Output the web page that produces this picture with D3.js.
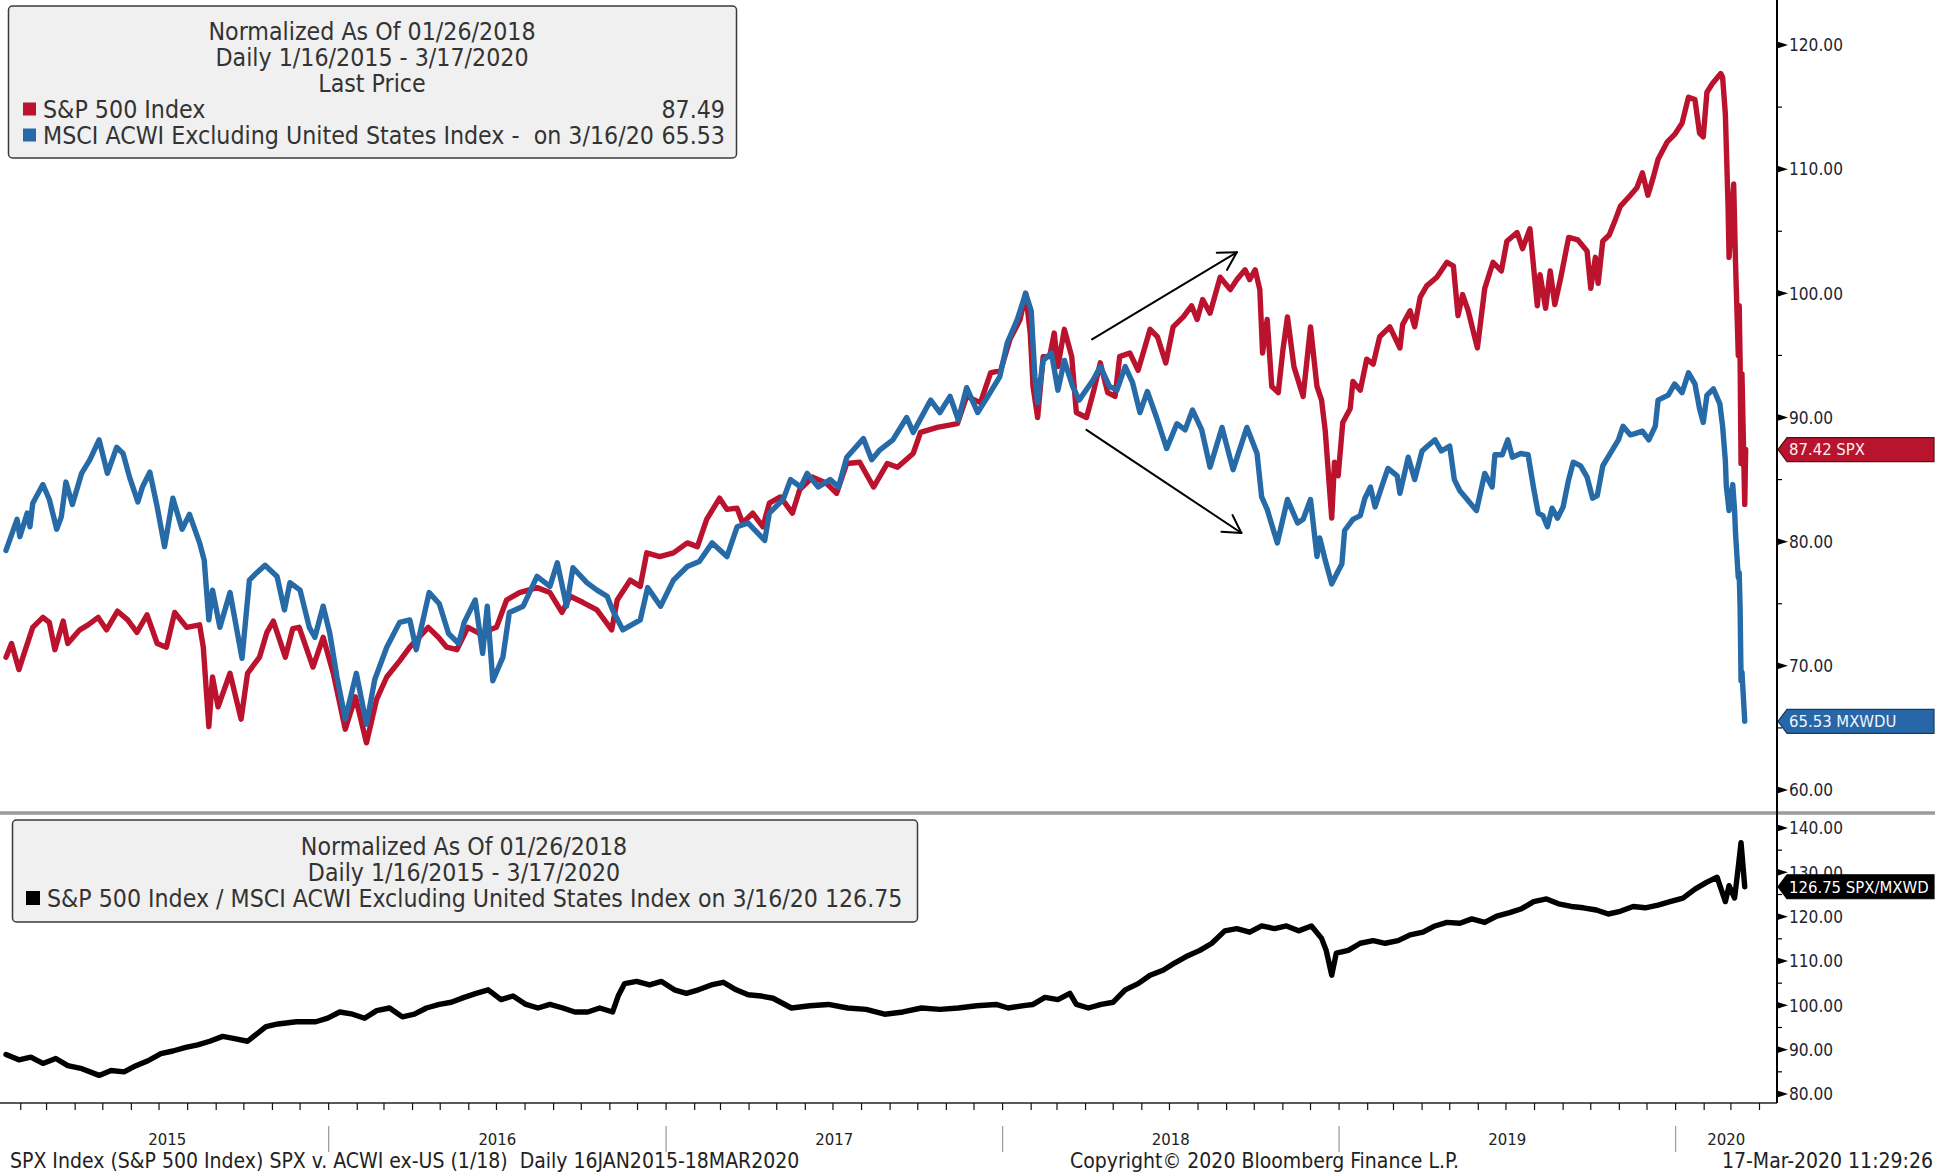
<!DOCTYPE html>
<html><head><meta charset="utf-8">
<script src="https://cdn.jsdelivr.net/npm/d3@7"></script>
<style>
html,body{margin:0;padding:0;background:#fff;}
svg{display:block;}
text{font-family:"DejaVu Sans Condensed","DejaVu Sans",sans-serif;font-stretch:condensed;white-space:pre;}
</style></head><body>
<svg id="chart" width="1940" height="1175"></svg>
<script>
// ---------------- DATA ----------------
const xDomain = ["2015-01-16", "2020-04-20"];

const spxDates = ["2015-01-16","2015-01-22","2015-01-30","2015-02-06","2015-02-14","2015-02-25","2015-03-04","2015-03-10","2015-03-19","2015-03-24","2015-04-06","2015-04-15","2015-04-26","2015-05-05","2015-05-17","2015-05-28","2015-06-07","2015-06-18","2015-06-29","2015-07-09","2015-07-18","2015-07-31","2015-08-14","2015-08-18","2015-08-24","2015-08-28","2015-09-03","2015-09-16","2015-09-28","2015-10-05","2015-10-18","2015-10-26","2015-11-02","2015-11-15","2015-11-23","2015-11-30","2015-12-15","2015-12-26","2016-01-06","2016-01-19","2016-01-30","2016-02-11","2016-02-22","2016-03-04","2016-03-18","2016-03-29","2016-04-18","2016-04-29","2016-05-08","2016-05-19","2016-05-31","2016-06-13","2016-07-01","2016-07-12","2016-07-26","2016-08-14","2016-08-28","2016-09-10","2016-09-19","2016-10-03","2016-10-18","2016-11-03","2016-11-09","2016-11-23","2016-12-04","2016-12-11","2016-12-25","2017-01-09","2017-01-24","2017-02-04","2017-02-14","2017-02-28","2017-03-08","2017-03-19","2017-03-25","2017-04-05","2017-04-16","2017-04-23","2017-05-05","2017-05-18","2017-05-26","2017-06-09","2017-06-24","2017-07-05","2017-07-16","2017-07-30","2017-08-14","2017-08-29","2017-09-09","2017-09-26","2017-10-04","2017-10-22","2017-11-13","2017-11-23","2017-12-08","2017-12-19","2017-12-30","2018-01-09","2018-01-20","2018-01-26","2018-01-31","2018-02-03","2018-02-08","2018-02-14","2018-02-21","2018-02-26","2018-03-02","2018-03-09","2018-03-17","2018-03-22","2018-04-02","2018-04-10","2018-04-17","2018-04-25","2018-05-03","2018-05-08","2018-05-19","2018-05-28","2018-06-10","2018-06-18","2018-06-27","2018-07-05","2018-07-16","2018-07-25","2018-07-31","2018-08-06","2018-08-14","2018-08-25","2018-09-05","2018-09-12","2018-09-21","2018-09-26","2018-10-02","2018-10-07","2018-10-10","2018-10-15","2018-10-20","2018-10-27","2018-11-01","2018-11-06","2018-11-13","2018-11-23","2018-12-01","2018-12-08","2018-12-13","2018-12-17","2018-12-24","2018-12-27","2018-12-31","2019-01-05","2019-01-13","2019-01-16","2019-01-24","2019-01-31","2019-02-07","2019-02-14","2019-02-25","2019-03-08","2019-03-11","2019-03-19","2019-03-24","2019-03-30","2019-04-06","2019-04-17","2019-04-28","2019-05-05","2019-05-10","2019-05-15","2019-05-21","2019-05-31","2019-06-08","2019-06-17","2019-06-26","2019-07-02","2019-07-13","2019-07-19","2019-07-27","2019-08-04","2019-08-07","2019-08-13","2019-08-18","2019-08-23","2019-08-29","2019-09-07","2019-09-17","2019-09-27","2019-10-01","2019-10-06","2019-10-09","2019-10-14","2019-10-21","2019-10-27","2019-11-02","2019-11-13","2019-11-20","2019-11-26","2019-12-02","2019-12-08","2019-12-13","2019-12-23","2019-12-31","2020-01-08","2020-01-15","2020-01-22","2020-01-27","2020-01-31","2020-02-04","2020-02-10","2020-02-19","2020-02-21","2020-02-24","2020-02-27","2020-02-28","2020-03-02","2020-03-04","2020-03-06","2020-03-09","2020-03-10","2020-03-11","2020-03-12","2020-03-13","2020-03-16","2020-03-17"];
const spxValues = [70.7,71.8,69.7,71.3,73.1,73.9,73.5,71.3,73.6,71.8,72.9,73.3,73.9,72.9,74.4,73.7,72.7,74.1,71.8,71.5,74.3,73.1,73.3,71.5,65.1,69.1,66.7,69.4,65.7,69.4,70.7,72.7,73.6,70.7,73.0,73.1,69.9,72.3,69.4,64.9,67.5,63.8,67.3,69.1,70.4,71.5,73.1,72.3,71.5,71.3,73.1,72.6,73.1,75.3,75.9,76.3,75.9,74.3,75.6,75.1,74.5,72.9,75.3,76.9,76.4,79.1,78.8,79.1,79.9,79.6,81.8,83.5,82.6,82.7,81.5,82.3,81.2,83.1,83.6,82.3,84.2,85.2,84.7,83.9,86.3,86.4,84.4,86.3,86.0,87.1,88.8,89.2,89.5,91.7,91.2,93.6,93.8,96.3,97.9,100.0,96.8,92.5,90.0,94.9,94.9,96.8,94.1,97.1,94.9,90.4,90.0,92.2,94.4,92.0,91.7,94.9,95.2,93.8,97.1,96.5,94.4,97.3,98.1,99.0,97.9,99.5,98.4,101.3,100.3,101.1,101.9,101.1,101.9,100.3,95.2,97.9,92.5,92.0,95.4,98.1,94.1,91.7,97.3,92.5,91.4,88.9,81.9,86.4,85.3,89.6,90.7,92.9,92.2,94.7,94.3,96.5,97.3,95.6,97.5,98.6,97.3,99.7,100.6,101.3,102.5,102.2,98.2,99.9,98.6,95.6,100.4,102.5,101.8,104.2,104.9,103.6,105.2,99.0,101.5,98.8,101.8,99.1,101.1,104.5,104.3,103.4,100.4,102.9,100.8,104.2,104.7,105.8,107.0,107.9,108.5,109.7,107.9,109.4,110.8,112.2,112.8,113.7,115.8,115.6,112.9,112.6,116.2,116.9,117.7,117.4,114.4,106.8,102.9,106.5,108.8,102.5,95.0,99.0,94.5,86.3,93.5,83.0,87.42];

const mxDates = ["2015-01-16","2015-01-28","2015-01-31","2015-02-08","2015-02-11","2015-02-14","2015-02-25","2015-03-04","2015-03-12","2015-03-17","2015-03-22","2015-03-29","2015-04-08","2015-04-17","2015-04-27","2015-05-06","2015-05-16","2015-05-23","2015-05-30","2015-06-08","2015-06-13","2015-06-21","2015-06-29","2015-07-07","2015-07-16","2015-07-26","2015-08-03","2015-08-14","2015-08-19","2015-08-24","2015-08-28","2015-09-05","2015-09-16","2015-09-29","2015-10-07","2015-10-15","2015-10-24","2015-11-06","2015-11-14","2015-11-20","2015-12-01","2015-12-11","2015-12-17","2015-12-26","2016-01-02","2016-01-10","2016-01-19","2016-01-31","2016-02-11","2016-02-20","2016-03-04","2016-03-18","2016-03-29","2016-04-05","2016-04-19","2016-04-30","2016-05-10","2016-05-21","2016-05-27","2016-06-08","2016-06-16","2016-06-21","2016-06-27","2016-07-08","2016-07-15","2016-07-30","2016-08-14","2016-08-28","2016-09-05","2016-09-15","2016-09-22","2016-10-07","2016-10-18","2016-10-29","2016-11-04","2016-11-15","2016-12-04","2016-12-12","2016-12-26","2017-01-09","2017-01-24","2017-02-06","2017-02-20","2017-03-08","2017-03-19","2017-03-31","2017-04-18","2017-04-23","2017-05-08","2017-05-16","2017-05-27","2017-06-03","2017-06-15","2017-06-28","2017-07-07","2017-07-16","2017-08-03","2017-08-12","2017-08-21","2017-09-04","2017-09-19","2017-09-26","2017-10-15","2017-10-25","2017-11-05","2017-11-14","2017-11-23","2017-12-05","2017-12-16","2017-12-29","2018-01-06","2018-01-17","2018-01-26","2018-02-01","2018-02-05","2018-02-08","2018-02-14","2018-02-23","2018-03-02","2018-03-09","2018-03-18","2018-03-25","2018-04-09","2018-04-17","2018-04-27","2018-05-05","2018-05-14","2018-05-22","2018-05-30","2018-06-07","2018-06-17","2018-06-28","2018-07-09","2018-07-18","2018-07-26","2018-08-05","2018-08-14","2018-08-27","2018-09-08","2018-09-23","2018-10-04","2018-10-09","2018-10-15","2018-10-26","2018-11-06","2018-11-17","2018-11-23","2018-12-01","2018-12-08","2018-12-11","2018-12-17","2018-12-24","2018-12-30","2019-01-04","2019-01-07","2019-01-16","2019-01-24","2019-01-29","2019-02-04","2019-02-09","2019-02-17","2019-02-23","2019-03-05","2019-03-08","2019-03-17","2019-03-24","2019-04-01","2019-04-07","2019-04-15","2019-04-22","2019-05-01","2019-05-06","2019-05-12","2019-05-20","2019-05-30","2019-06-08","2019-06-16","2019-06-19","2019-06-27","2019-07-03","2019-07-08","2019-07-17","2019-07-25","2019-07-31","2019-08-05","2019-08-10","2019-08-15","2019-08-20","2019-08-26","2019-09-01","2019-09-07","2019-09-12","2019-09-20","2019-09-27","2019-10-03","2019-10-08","2019-10-14","2019-10-22","2019-10-31","2019-11-05","2019-11-13","2019-11-18","2019-11-26","2019-12-03","2019-12-10","2019-12-13","2019-12-24","2019-12-31","2020-01-08","2020-01-15","2020-01-22","2020-01-27","2020-01-31","2020-02-04","2020-02-11","2020-02-18","2020-02-21","2020-02-24","2020-02-25","2020-02-28","2020-03-03","2020-03-05","2020-03-06","2020-03-09","2020-03-10","2020-03-11","2020-03-12","2020-03-13","2020-03-16"];
const mxValues = [79.3,81.8,80.4,82.3,81.2,83.1,84.6,83.4,81.0,82.0,84.8,83.0,85.5,86.6,88.2,85.5,87.6,87.1,85.2,83.2,84.4,85.6,82.8,79.6,83.5,81.0,82.2,79.9,78.5,73.7,76.1,73.1,75.9,70.6,76.9,77.5,78.1,77.2,74.5,76.7,76.1,73.1,72.3,74.8,72.7,69.1,65.7,69.4,65.3,68.9,71.5,73.5,73.7,71.3,75.9,75.0,72.6,71.8,73.5,75.3,71.0,74.8,68.8,70.7,74.3,74.8,77.2,76.4,78.3,74.8,77.9,76.7,76.1,75.6,74.5,72.9,73.7,76.3,74.8,76.9,78.0,78.4,79.9,78.8,81.2,81.5,80.1,82.3,83.4,85.0,84.4,85.5,84.4,85.0,84.4,86.8,88.3,86.6,87.4,88.2,90.0,88.8,91.4,90.4,91.7,89.8,92.4,90.4,91.7,93.3,96.0,97.9,100.0,98.6,93.3,91.2,94.6,95.2,92.2,94.6,92.5,91.4,93.0,94.1,92.5,92.2,94.1,92.8,90.4,92.1,90.0,87.5,89.5,89.0,90.6,89.0,86.0,89.2,85.8,89.2,87.1,83.6,82.6,79.9,83.4,81.5,81.8,83.4,78.8,80.3,78.5,76.6,77.5,78.2,80.9,81.8,82.1,83.5,84.4,82.8,84.6,85.9,85.3,83.9,86.8,85.0,87.3,87.7,88.2,87.3,87.7,85.0,84.1,83.4,82.5,85.5,84.4,87.0,87.0,88.2,86.8,87.1,87.0,84.3,82.3,82.1,81.2,82.7,81.9,82.8,85.0,86.4,86.1,85.2,83.5,83.7,86.1,87.1,88.2,89.3,88.6,88.7,88.9,88.2,89.3,91.4,91.8,92.7,92.0,93.6,92.7,90.7,89.6,91.8,92.3,91.1,89.3,86.5,84.5,82.5,84.6,82.5,80.7,77.1,77.5,74.6,68.8,69.5,65.53];

const ratioDates = ["2015-01-16","2015-01-30","2015-02-12","2015-02-25","2015-03-11","2015-03-24","2015-04-07","2015-04-27","2015-05-10","2015-05-24","2015-06-06","2015-06-19","2015-07-03","2015-07-16","2015-07-30","2015-08-12","2015-08-25","2015-09-08","2015-09-21","2015-10-05","2015-10-25","2015-11-07","2015-11-27","2015-12-18","2015-12-31","2016-01-13","2016-01-27","2016-02-09","2016-02-22","2016-03-07","2016-03-21","2016-04-03","2016-04-16","2016-04-30","2016-05-13","2016-05-27","2016-06-09","2016-06-22","2016-07-06","2016-07-19","2016-08-02","2016-08-15","2016-08-28","2016-09-11","2016-09-24","2016-10-08","2016-10-21","2016-11-04","2016-11-10","2016-11-17","2016-11-30","2016-12-14","2016-12-27","2017-01-10","2017-01-23","2017-02-05","2017-02-19","2017-03-04","2017-03-18","2017-03-31","2017-04-14","2017-04-27","2017-05-17","2017-06-06","2017-06-26","2017-07-17","2017-08-06","2017-08-26","2017-09-15","2017-10-05","2017-10-25","2017-11-14","2017-12-04","2017-12-25","2018-01-07","2018-01-26","2018-02-03","2018-02-16","2018-03-02","2018-03-15","2018-03-22","2018-04-04","2018-04-18","2018-05-01","2018-05-14","2018-05-28","2018-06-10","2018-06-24","2018-07-07","2018-07-21","2018-08-03","2018-08-16","2018-08-30","2018-09-12","2018-09-26","2018-10-09","2018-10-23","2018-11-05","2018-11-18","2018-12-02","2018-12-13","2018-12-18","2018-12-24","2018-12-29","2019-01-11","2019-01-24","2019-02-07","2019-02-20","2019-03-06","2019-03-19","2019-04-02","2019-04-15","2019-04-28","2019-05-12","2019-05-25","2019-06-08","2019-06-21","2019-07-05","2019-07-18","2019-07-31","2019-08-14","2019-08-27","2019-09-10","2019-09-23","2019-10-07","2019-10-20","2019-11-02","2019-11-16","2019-11-29","2019-12-13","2019-12-26","2020-01-09","2020-01-22","2020-02-04","2020-02-15","2020-02-24","2020-02-28","2020-03-05","2020-03-09","2020-03-12","2020-03-16"];
const ratioValues = [88.9,87.7,88.3,86.9,88.0,86.4,85.8,84.2,85.3,85.0,86.4,87.5,89.1,89.7,90.5,91.1,91.9,93.0,92.5,91.9,95.2,95.8,96.3,96.3,97.1,98.5,98.0,97.1,98.8,99.4,97.4,98.0,99.4,100.2,100.7,101.8,102.7,103.5,101.3,102.1,100.2,99.4,100.2,99.4,98.5,98.5,99.4,98.5,102.1,104.9,105.4,104.6,105.4,103.5,102.7,103.5,104.6,105.2,103.5,102.4,102.1,101.6,99.4,99.9,100.2,99.4,99.1,98.0,98.5,99.4,99.1,99.4,99.9,100.2,99.4,100.0,100.2,101.8,101.3,102.7,100.2,99.4,100.2,100.7,103.5,104.9,106.8,107.9,109.6,111.2,112.4,114.0,116.8,117.3,116.5,117.9,117.3,117.9,116.8,117.9,115.1,112.4,106.8,111.8,112.4,114.0,114.6,114.0,114.6,115.9,116.5,117.9,118.7,118.5,119.5,118.7,120.1,120.9,121.8,123.4,124.0,122.9,122.3,122.0,121.5,120.6,121.2,122.3,122.0,122.6,123.4,124.2,126.2,127.8,128.9,123.4,127.0,124.2,131.2,136.7,126.75];

const topTicks = [60,70,80,90,100,110,120];
const topMinorTicks = [65,75,85,95,105,115];
const botTicks = [80,90,100,110,120,130,140];
const botMinorTicks = [85,95,105,115,125,135];
const yearLabels = ["2015","2016","2017","2018","2019","2020"];

const legendTop = {
  title: ["Normalized As Of 01/26/2018", "Daily 1/16/2015 - 3/17/2020", "Last Price"],
  items: [
    {name: "S&P 500 Index", value: "87.49", color: "#bb132e"},
    {name: "MSCI ACWI Excluding United States Index -  on 3/16/20", value: "65.53", color: "#266aa8"}
  ]
};
const legendBot = {
  title: ["Normalized As Of 01/26/2018", "Daily 1/16/2015 - 3/17/2020"],
  item: "S&P 500 Index / MSCI ACWI Excluding United States Index on 3/16/20 126.75"
};
const lastTags = [
  {panel: "top", value: 87.42, label: "87.42 SPX", fill: "#b8142d", stroke: "#5e0a17", text: "#fbeef0"},
  {panel: "top", value: 65.53, label: "65.53 MXWDU", fill: "#2767a8", stroke: "#143b62", text: "#f2f6fb"},
  {panel: "bot", value: 126.75, label: "126.75 SPX/MXWD", fill: "#000000", stroke: "#000000", text: "#ffffff"}
];
const arrows = [
  {from: ["2018-04-08", 96.3], to: ["2018-09-12", 103.3]},
  {from: ["2018-04-02", 89.0], to: ["2018-09-17", 80.7]}
];
const footerLeft = "SPX Index (S&P 500 Index) SPX v. ACWI ex-US (1/18)  Daily 16JAN2015-18MAR2020";
const footerMid = "Copyright\u00A9 2020 Bloomberg Finance L.P.";
const footerRight = "17-Mar-2020 11:29:26";

// ---------------- CHART ----------------
const svg = d3.select("#chart");
const parse = d3.timeParse("%Y-%m-%d");
const AX = 1777;              // right axis position
const TOP_BOTTOM = 813;       // separator
const BOT_BOTTOM = 1103;
const LINE_W = 5.4;

const x = d3.scaleTime().domain(xDomain.map(parse)).range([6, AX]);
const yTop = d3.scaleLinear().domain([60, 120]).range([790, 45]);
const yBot = d3.scaleLinear().domain([80, 140]).range([1094, 828]);

function fitSize(str, target, base) {
  const t = svg.append("text").attr("font-size", base).text(str);
  const w = t.node().getComputedTextLength();
  t.remove();
  return base * target / w;
}

svg.append("rect").attr("width", 1940).attr("height", 1175).attr("fill", "#fff");

const defs = svg.append("defs");
defs.append("clipPath").attr("id", "clipTop").append("rect").attr("x", 0).attr("y", 0).attr("width", AX).attr("height", TOP_BOTTOM - 2);
defs.append("clipPath").attr("id", "clipBot").append("rect").attr("x", 0).attr("y", TOP_BOTTOM + 2).attr("width", AX).attr("height", BOT_BOTTOM - TOP_BOTTOM - 2);

// series
const spx = spxDates.map((d, i) => ({d: parse(d), v: spxValues[i]}));
const mx = mxDates.map((d, i) => ({d: parse(d), v: mxValues[i]}));
const ratio = ratioDates.map((d, i) => ({d: parse(d), v: ratioValues[i]}));

const lineTop = d3.line().x(p => x(p.d)).y(p => yTop(p.v)).curve(d3.curveLinear);
const lineBot = d3.line().x(p => x(p.d)).y(p => yBot(p.v)).curve(d3.curveLinear);

const gTop = svg.append("g").attr("clip-path", "url(#clipTop)");
gTop.append("path").datum(spx).attr("d", lineTop).attr("fill", "none")
  .attr("stroke", legendTop.items[0].color).attr("stroke-width", LINE_W).attr("stroke-linejoin", "round").attr("stroke-linecap", "round");
gTop.append("path").datum(mx).attr("d", lineTop).attr("fill", "none")
  .attr("stroke", legendTop.items[1].color).attr("stroke-width", LINE_W).attr("stroke-linejoin", "round").attr("stroke-linecap", "round");

const gBot = svg.append("g").attr("clip-path", "url(#clipBot)");
gBot.append("path").datum(ratio).attr("d", lineBot).attr("fill", "none")
  .attr("stroke", "#000").attr("stroke-width", LINE_W).attr("stroke-linejoin", "round").attr("stroke-linecap", "round");

// arrows
arrows.forEach(a => {
  const x1 = x(parse(a.from[0])), y1 = yTop(a.from[1]);
  const x2 = x(parse(a.to[0])), y2 = yTop(a.to[1]);
  const g = svg.append("g").attr("stroke", "#000").attr("stroke-width", 2).attr("fill", "none").attr("stroke-linecap", "round");
  g.append("line").attr("x1", x1).attr("y1", y1).attr("x2", x2).attr("y2", y2);
  const ang = Math.atan2(y1 - y2, x1 - x2);
  const L = 20, spread = Math.PI / 6;
  [ang - spread, ang + spread].forEach(t => {
    g.append("line").attr("x1", x2).attr("y1", y2).attr("x2", x2 + L * Math.cos(t)).attr("y2", y2 + L * Math.sin(t));
  });
});

// separator
svg.append("line").attr("x1", 0).attr("x2", 1935).attr("y1", TOP_BOTTOM).attr("y2", TOP_BOTTOM)
  .attr("stroke", "#9b9b9b").attr("stroke-width", 3.5);

// bottom border
svg.append("line").attr("x1", 0).attr("x2", AX).attr("y1", BOT_BOTTOM).attr("y2", BOT_BOTTOM)
  .attr("stroke", "#222").attr("stroke-width", 1.5);

// right axis line
svg.append("line").attr("x1", AX).attr("x2", AX).attr("y1", 0).attr("y2", BOT_BOTTOM)
  .attr("stroke", "#000").attr("stroke-width", 2);

// y ticks
const tickFont = fitSize("120.00", 54, 16);
function drawYAxis(scale, major, minor) {
  const g = svg.append("g");
  major.forEach(v => {
    const yy = scale(v);
    g.append("path").attr("d", `M${AX},${yy - 3.5}L${AX + 11},${yy}L${AX},${yy + 3.5}Z`).attr("fill", "#000");
    g.append("text").attr("x", AX + 12).attr("y", yy + tickFont * 0.36).attr("font-size", tickFont)
      .attr("fill", "#1d2430").text(d3.format(".2f")(v));
  });
  minor.forEach(v => {
    const yy = scale(v);
    g.append("line").attr("x1", AX).attr("x2", AX + 5).attr("y1", yy).attr("y2", yy).attr("stroke", "#000").attr("stroke-width", 1.2);
  });
}
drawYAxis(yTop, topTicks, topMinorTicks);
drawYAxis(yBot, botTicks, botMinorTicks);

// last value tags
const tagFont = fitSize("87.42 SPX", 76, 16);
lastTags.forEach(t => {
  const cy = (t.panel === "top" ? yTop : yBot)(t.value);
  const h = 12;
  svg.append("path").attr("d", `M${AX + 1},${cy}L${AX + 10},${cy - h}L1934,${cy - h}L1934,${cy + h}L${AX + 10},${cy + h}Z`)
    .attr("fill", t.fill).attr("stroke", t.stroke).attr("stroke-width", 1.2);
  svg.append("text").attr("x", AX + 12).attr("y", cy + tagFont * 0.36).attr("font-size", tagFont)
    .attr("fill", t.text).text(t.label);
});

// x axis: monthly ticks, year separators, year labels
const months = d3.timeMonth.range(d3.timeMonth.ceil(x.domain()[0]), x.domain()[1]);
svg.append("g").selectAll("line").data(months).join("line")
  .attr("x1", d => x(d)).attr("x2", d => x(d)).attr("y1", BOT_BOTTOM).attr("y2", BOT_BOTTOM + 7)
  .attr("stroke", "#111").attr("stroke-width", 1.2);
const years = d3.timeYear.range(d3.timeYear.ceil(x.domain()[0]), x.domain()[1]);
svg.append("g").selectAll("line").data(years).join("line")
  .attr("x1", d => x(d)).attr("x2", d => x(d)).attr("y1", 1126).attr("y2", 1152)
  .attr("stroke", "#a0a0a0").attr("stroke-width", 1.3);
const bounds = [x.range()[0], ...years.map(x), x.range()[1]];
const yearFont = fitSize("2015", 38, 16);
yearLabels.forEach((lab, i) => {
  svg.append("text").attr("x", (bounds[i] + bounds[i + 1]) / 2).attr("y", 1139.5 + yearFont * 0.36)
    .attr("text-anchor", "middle").attr("font-size", yearFont).attr("fill", "#222").text(lab);
});

// footer
const footFont = fitSize(footerLeft, 790, 18);
const footY = 1160 + footFont * 0.36;
svg.append("text").attr("x", 10).attr("y", footY).attr("font-size", footFont).attr("fill", "#222").text(footerLeft);
svg.append("text").attr("x", 1070).attr("y", footY).attr("font-size", footFont).attr("fill", "#222").text(footerMid);
svg.append("text").attr("x", 1933).attr("y", footY).attr("text-anchor", "end").attr("font-size", footFont).attr("fill", "#222").text(footerRight);

// legend top
const legFont = fitSize(legendTop.items[1].name + " " + legendTop.items[1].value, 682, 20);
const lt = svg.append("g");
lt.append("rect").attr("x", 8.5).attr("y", 6).attr("width", 728).attr("height", 152).attr("rx", 4)
  .attr("fill", "#f0f0f0").attr("stroke", "#3a3a3a").attr("stroke-width", 1.5);
const ltCenters = [31, 57, 83, 109, 135];
legendTop.title.forEach((s, i) => {
  lt.append("text").attr("x", 372).attr("y", ltCenters[i] + legFont * 0.36).attr("text-anchor", "middle")
    .attr("font-size", legFont).attr("fill", "#333").text(s);
});
legendTop.items.forEach((it, i) => {
  const cy = ltCenters[3 + i];
  lt.append("rect").attr("x", 23).attr("y", cy - 6.5).attr("width", 13).attr("height", 13).attr("fill", it.color);
  lt.append("text").attr("x", 43).attr("y", cy + legFont * 0.36).attr("font-size", legFont).attr("fill", "#333").text(it.name);
  lt.append("text").attr("x", 725).attr("y", cy + legFont * 0.36).attr("text-anchor", "end").attr("font-size", legFont).attr("fill", "#333").text(it.value);
});

// legend bottom
const lb = svg.append("g");
lb.append("rect").attr("x", 12.5).attr("y", 820).attr("width", 905).attr("height", 102).attr("rx", 4)
  .attr("fill", "#f0f0f0").attr("stroke", "#3a3a3a").attr("stroke-width", 1.5);
const lbFont = fitSize(legendBot.item, 856, 20);
const lbCenters = [846, 872, 898];
legendBot.title.forEach((s, i) => {
  lb.append("text").attr("x", 464).attr("y", lbCenters[i] + lbFont * 0.36).attr("text-anchor", "middle")
    .attr("font-size", lbFont).attr("fill", "#333").text(s);
});
lb.append("rect").attr("x", 26).attr("y", lbCenters[2] - 7).attr("width", 14).attr("height", 14).attr("fill", "#000");
lb.append("text").attr("x", 47).attr("y", lbCenters[2] + lbFont * 0.36).attr("font-size", lbFont).attr("fill", "#333").text(legendBot.item);
</script>
</body></html>
